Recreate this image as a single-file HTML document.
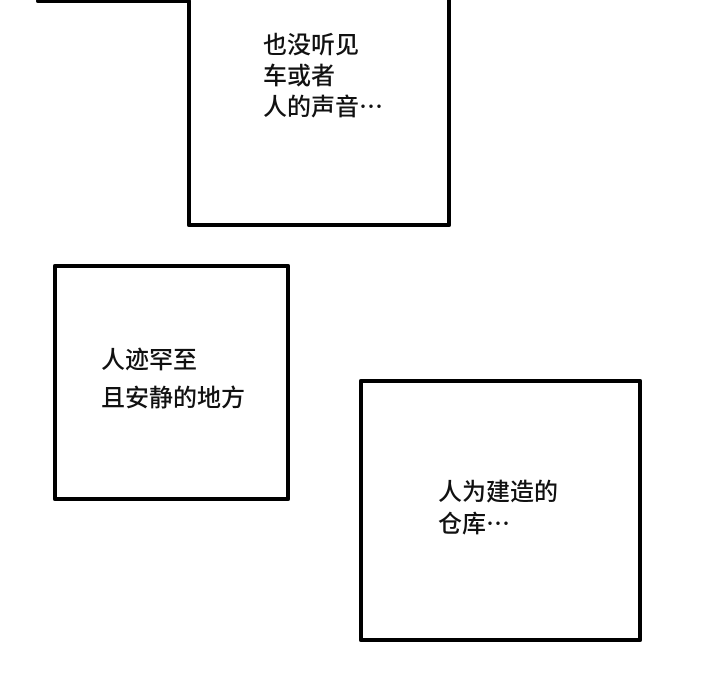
<!DOCTYPE html>
<html><head><meta charset="utf-8"><style>
body{margin:0;width:720px;height:700px;background:#fff;position:relative;overflow:hidden;font-family:"Liberation Sans","Noto Sans CJK SC",sans-serif;}
.b{position:absolute;border:4px solid #000;border-radius:2px;box-sizing:border-box;}
.t{position:absolute;font-size:24px;color:#111;white-space:nowrap;font-weight:500;}
</style></head><body>
<svg width="720" height="700" style="position:absolute;left:0;top:0">
<polyline points="38,1 189,1 189,225 449,225 449,-5" fill="none" stroke="#000" stroke-width="4" stroke-linejoin="round" stroke-linecap="round"/>
</svg>
<div class="t" style="left:263px;top:30px;line-height:31px">也没听见<br>车或者<br>人的声音⋯</div>
<div class="b" style="left:53px;top:264px;width:237px;height:237px"></div>
<div class="t" style="left:101px;top:342px;line-height:38px">人迹罕至<br>且安静的地方</div>
<div class="b" style="left:359px;top:379px;width:283px;height:263px"></div>
<div class="t" style="left:438px;top:477px;line-height:32px">人为建造的<br>仓库⋯</div>
</body></html>
